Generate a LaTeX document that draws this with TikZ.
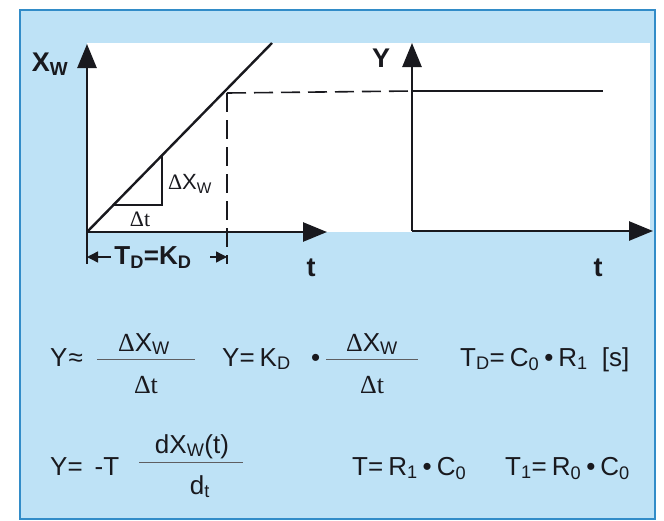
\documentclass[tikz,border=0pt]{standalone}
\usepackage{fontspec}
\setmainfont{Liberation Sans}
\newfontfamily\serf{Liberation Serif}
\usetikzlibrary{arrows.meta}
\definecolor{panelfill}{RGB}{190,226,246}
\definecolor{paneledge}{RGB}{50,140,200}
\definecolor{ink}{RGB}{25,25,30}
\tikzset{
  axis/.style={line width=2.6pt, draw=ink, -{Triangle[length=24pt,width=19pt]}},
  curve/.style={line width=2.4pt, draw=ink},
  dashline/.style={line width=1.6pt, draw=ink, dash pattern=on 19pt off 8pt},
  thinline/.style={line width=1.1pt, draw=ink},
  dimarr/.style={line width=1.4pt, draw=ink, -{Triangle[length=11pt,width=11pt]}},
  bar/.style={line width=0.9pt, draw=ink!70},
  lbl/.style={font=\bfseries\fontsize{27}{30}\selectfont, text=ink, inner sep=0pt},
  lbltd/.style={font=\bfseries\fontsize{26}{30}\selectfont, text=ink, inner sep=0pt},
  small/.style={font=\fontsize{22}{24}\selectfont, text=ink, inner sep=0pt},
  eq/.style={font=\fontsize{26}{30}\selectfont, text=ink, inner sep=0pt, anchor=base west},
  eqc/.style={font=\fontsize{26}{30}\selectfont, text=ink, inner sep=0pt, anchor=base},
}
\begin{document}
\begin{tikzpicture}[x=1pt,y=-1pt]
\useasboundingbox (0,0) rectangle (664,520);
\fill[white] (0,0) rectangle (664,520);
\filldraw[fill=panelfill, draw=paneledge, line width=1.6pt] (20,10) rectangle (655,519);
\fill[white] (87,43) rectangle (650,232);

% left plot
\coordinate (o1) at (87,232);
\coordinate (y1) at (87,44);
\coordinate (x1) at (327,232);
\coordinate (d1) at (272,43);
\coordinate (c) at (227,93);
\coordinate (tr1) at (113.4,205);
\coordinate (tr2) at (162,205);
\coordinate (tr3) at (162,155.4);
\coordinate (extL) at (87,264);
\coordinate (extR) at (227,264);
\coordinate (dimL) at (87,257);
\coordinate (dimR) at (227,257);
\coordinate (dimRs) at (210,257);

\draw[curve] (o1) -- (d1);
\draw[thinline] (tr1) -- (tr2) -- (tr3);
\draw[dashline] (c) -- (extR);
\draw[thinline] (o1) -- (extL);
\draw[axis] (o1) -- (y1);
\draw[axis] (o1) -- (x1);

\node[lbl] (xw) at (50,64) {X\textsubscript{W}};
\node[small] (dt) at (140,219) {\serf Δt};
\node[small] (dxw) at (190,184) {{\serf Δ}X\textsubscript{W}};
\node[lbltd] (td) at (153,258) {T\textsubscript{D}=K\textsubscript{D}};
\node[lbl] (t1) at (311,268) {t};
\draw[dimarr] ([xshift=-3pt]td.west |- dimL) -- (dimL);
\draw[dimarr] (dimRs) -- (dimR);

% right plot
\coordinate (o2) at (412,231);
\coordinate (y2) at (412,43);
\coordinate (x2) at (653,231);
\coordinate (h1) at (412,91);
\coordinate (h2) at (603,91);
\draw[dashline] (c) -- (h1);
\draw[curve] (h1) -- (h2);
\draw[axis] (o2) -- (y2);
\draw[axis] (o2) -- (x2);
\node[lbl] (yl) at (381,58) {Y};
\node[lbl] (t2) at (598,268) {t};

% equations row 1
\node[eq] (r1a) at (50,366) {Y\kern1pt≈};
\coordinate (b1l) at (97,359);
\coordinate (b1r) at (195,359);
\draw[bar] (b1l) -- (b1r);
\node[eqc] (n1) at (144,351) {{\serf Δ}X\textsubscript{W}};
\node[eqc] (dd1) at (146,393) {\serf Δt};
\node[eq] (r1b) at (222,366) {Y=\kern5pt K\textsubscript{D}};
\node[eq] (bul) at (311,366) {•};
\coordinate (b2l) at (326,359);
\coordinate (b2r) at (418,359);
\draw[bar] (b2l) -- (b2r);
\node[eqc] (n2) at (372,351) {{\serf Δ}X\textsubscript{W}};
\node[eqc] (dd2) at (372,393) {\serf Δt};
\node[eq] (r1c) at (460,366) {T\textsubscript{D}=\kern5pt C\textsubscript{0}\kern5pt•\kern5pt R\textsubscript{1}\hspace{14pt}[s]};

% equations row 2
\node[eq] (r2a) at (50,475) {Y=\hspace{12pt}-T};
\coordinate (b3l) at (139,462);
\coordinate (b3r) at (243,462);
\draw[bar] (b3l) -- (b3r);
\node[eqc] (n3) at (192,453) {dX\textsubscript{W}(t)};
\node[eqc] (dd3) at (200,494) {d\textsubscript{t}};
\node[eq] (r2b) at (352,475) {T=\kern5pt R\textsubscript{1}\kern5pt•\kern5pt C\textsubscript{0}};
\node[eq] (r2c) at (505,475) {T\textsubscript{1}=\kern5pt R\textsubscript{0}\kern5pt•\kern5pt C\textsubscript{0}};
\end{tikzpicture}
\end{document}
